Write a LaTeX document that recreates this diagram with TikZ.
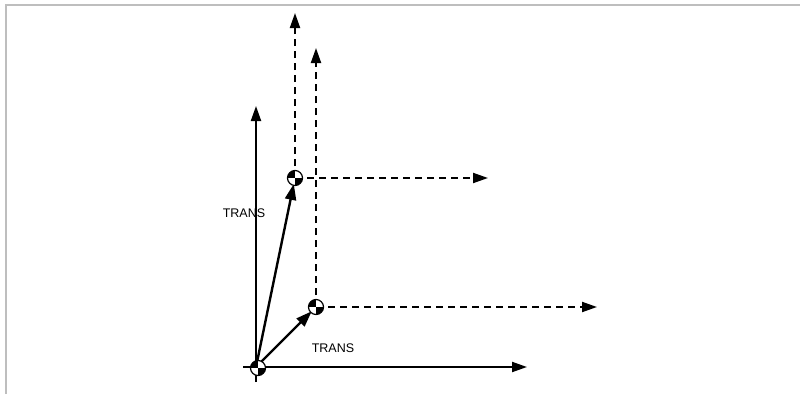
\documentclass[tikz,border=0pt]{standalone}
\usepackage{fontspec}
\setmainfont{Liberation Sans}
\usetikzlibrary{arrows.meta}
\definecolor{frame}{HTML}{BEBEBE}

\tikzset{
  axis/.style={line width=2pt,-{Triangle[length=15pt,width=10pt]}},
  dashaxis/.style={axis,dash pattern=on 7pt off 5pt},
  trans/.style={line width=2.4pt,-{Triangle[length=16pt,width=11pt]},shorten >=6pt},
  cog/.style={circle,draw,line width=1.2pt,fill=white,minimum size=15pt,inner sep=0pt,
    path picture={
      \fill[black] (path picture bounding box.center) rectangle (path picture bounding box.north west);
      \fill[black] (path picture bounding box.center) rectangle (path picture bounding box.south east);
    }},
  lbl/.style={font=\fontsize{12.5}{14}\selectfont,inner sep=1pt}
}

\begin{document}
\begin{tikzpicture}[x=1pt,y=-1pt]
  \useasboundingbox (0,0) rectangle (800,394);
  % page frame
  \draw[frame,line width=2pt] (6,394) -- (6,5) -- (800,5);

  % frame points
  \coordinate (O) at (256,367);
  \coordinate (A) at (295,178);
  \coordinate (B) at (316,307);

  % world axes
  \coordinate (xO) at (527,367);
  \coordinate (yO) at (256,106);
  \draw[line width=2pt] (243,367) -- (O) (256,382) -- (O);
  \draw[axis] (O) -- (xO);
  \draw[axis] (O) -- (yO);

  % moved axes
  \coordinate (xA) at (488,178);
  \coordinate (yA) at (295,13);
  \coordinate (xB) at (597,307);
  \coordinate (yB) at (316,48);
  \draw[dashaxis] (A) -- (xA);
  \draw[dashaxis] (A) -- (yA);
  \draw[dashaxis] (B) -- (xB);
  \draw[dashaxis] (B) -- (yB);

  % translation vectors
  \draw[trans] (O) -- (A);
  \draw[trans] (O) -- (B);

  % centre symbols
  \node[cog] (cgO) at (258,368) {};
  \node[cog] (cgA) at (A) {};
  \node[cog] (cgB) at (B) {};

  % labels
  \node[lbl] (tA) at (244,213) {TRANS};
  \node[lbl] (tB) at (333,348) {TRANS};
\end{tikzpicture}
\end{document}
